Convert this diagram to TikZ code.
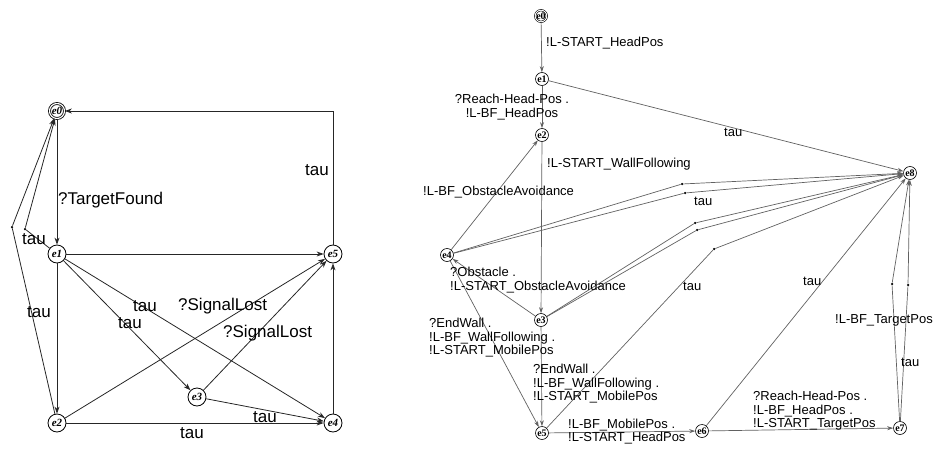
\documentclass[tikz,border=0pt]{standalone}
\usepackage{fontspec}
\setmainfont{Liberation Sans}
\newfontfamily\statefont{Liberation Serif}
\usetikzlibrary{arrows.meta}
\begin{document}
\begin{tikzpicture}[x=1pt,y=-1pt,
  lstate/.style={circle,draw,line width=0.8pt,minimum size=18pt,inner sep=0pt,fill=white,font=\statefont\bfseries\itshape\fontsize{11}{11}\selectfont},
  rstate/.style={circle,draw,line width=0.6pt,minimum size=13pt,inner sep=0pt,fill=white,font=\statefont\bfseries\fontsize{10}{10}\selectfont},
  ledge/.style={draw=black!85,line width=0.8pt,-{Stealth[length=7pt,width=5pt]}},
  redge/.style={draw=black!62,line width=0.7pt,-{Stealth[length=6pt,width=4pt]}},
  llab/.style={anchor=west,inner sep=0pt,font=\fontsize{17}{17}\selectfont},
  rlab/.style={anchor=west,inner sep=0pt,align=left,font=\fontsize{13}{13.5}\selectfont},
  nail/.style={circle,fill,inner sep=0pt,minimum size=2.5pt}
]
\useasboundingbox (0,0) rectangle (935,450);

% ---------- left automaton ----------
\node[lstate,double,double distance=1.2pt,minimum size=15pt] (L0) at (57,111) {e0};
\node[lstate] (L1) at (57,254) {e1};
\node[lstate] (L5) at (333,254) {e5};
\node[lstate] (L2) at (57,423) {e2};
\node[lstate] (L4) at (333,423) {e4};
\node[lstate] (L3) at (197,397) {e3};
\node[nail] (La) at (25,229) {};
\node[nail] (Lb) at (12,227) {};
\coordinate (Lc) at (333,111);

\draw[ledge] (L0) -- (L1);
\draw[ledge] (L1) -- (La) -- (L0);
\draw[ledge] (L2) -- (Lb) -- (L0);
\draw[ledge] (L1) -- (L2);
\draw[ledge] (L1) -- (L5);
\draw[ledge] (L1) -- (L3);
\draw[ledge] (L1) -- (L4);
\draw[ledge] (L2) -- (L5);
\draw[ledge] (L3) -- (L5);
\draw[ledge] (L3) -- (L4);
\draw[ledge] (L2) -- (L4);
\draw[ledge] (L4) -- (L5);
\draw[ledge] (L5) -- (Lc) -- (L0);

\node[llab] (l1) at (58,200) {?TargetFound};
\node[llab] (l2) at (22,239) {tau};
\node[llab] (l3) at (27,312) {tau};
\node[llab] (l4) at (133,306) {tau};
\node[llab] (l5) at (118,323) {tau};
\node[llab] (l6) at (178,306) {?SignalLost};
\node[llab] (l7) at (223,333) {?SignalLost};
\node[llab] (l8) at (253,417) {tau};
\node[llab] (l9) at (180,433) {tau};
\node[llab] (l10) at (305,170) {tau};

% ---------- right automaton ----------
\node[rstate,double,double distance=0.9pt,minimum size=11pt] (R0) at (541,16) {e0};
\node[rstate] (R1) at (542,79) {e1};
\node[rstate] (R2) at (542,135) {e2};
\node[rstate] (R4) at (447,255) {e4};
\node[rstate] (R3) at (541,320) {e3};
\node[rstate] (R5) at (542,433) {e5};
\node[rstate] (R6) at (702,431) {e6};
\node[rstate] (R7) at (900,428) {e7};
\node[rstate] (R8) at (910,173) {e8};
\node[nail] (Ra) at (682,184) {};
\node[nail] (Rb) at (685,193) {};
\node[nail] (Rc) at (695,223) {};
\node[nail] (Rd) at (697,230) {};
\node[nail] (Re) at (714,249) {};
\node[nail] (Rf) at (892,284) {};
\node[nail] (Rg) at (908,285) {};

\draw[redge] (R0) -- (R1);
\draw[redge] (R1) -- (R2);
\draw[redge] (R2) -- (R3);
\draw[redge] (R4) -- (R2);
\draw[redge] (R3) -- (R4);
\draw[redge] (R4) -- (R5);
\draw[redge] (R3) -- (R5);
\draw[redge] (R5) -- (R6);
\draw[redge] (R6) -- (R7);
\draw[redge] (R1) -- (R8);
\draw[redge] (R4) -- (Ra) -- (R8);
\draw[redge] (R4) -- (Rb) -- (R8);
\draw[redge] (R3) -- (Rc) -- (R8);
\draw[redge] (R3) -- (Rd) -- (R8);
\draw[redge] (R5) -- (Re) -- (R8);
\draw[redge] (R6) -- (R8);
\draw[redge] (R7) -- (Rf) -- (R8);
\draw[redge] (R7) -- (Rg) -- (R8);

\node[rlab] (r1) at (546,43) {!L-START\_HeadPos};
\node[rlab,align=center,anchor=center] (r2) at (512,107) {?Reach-Head-Pos .\\!L-BF\_HeadPos};
\node[rlab] (r3) at (547,164) {!L-START\_WallFollowing};
\node[rlab] (r4) at (423,192) {!L-BF\_ObstacleAvoidance};
\node[rlab] (r5) at (450,280) {?Obstacle .\\!L-START\_ObstacleAvoidance};
\node[rlab] (r6) at (429,338) {?EndWall .\\!L-BF\_WallFollowing .\\!L-START\_MobilePos};
\node[rlab] (r7) at (533,384) {?EndWall .\\!L-BF\_WallFollowing .\\!L-START\_MobilePos};
\node[rlab] (r8) at (568,431.5) {!L-BF\_MobilePos .\\!L-START\_HeadPos};
\node[rlab] (r9) at (753,411) {?Reach-Head-Pos .\\!L-BF\_HeadPos .\\!L-START\_TargetPos};
\node[rlab] (r10) at (835,320) {!L-BF\_TargetPos};
\node[rlab] (r11) at (901,362) {tau};
\node[rlab] (r12) at (724,132) {tau};
\node[rlab] (r13) at (694,201) {tau};
\node[rlab] (r14) at (683,286) {tau};
\node[rlab] (r15) at (803,281) {tau};
\end{tikzpicture}
\end{document}
